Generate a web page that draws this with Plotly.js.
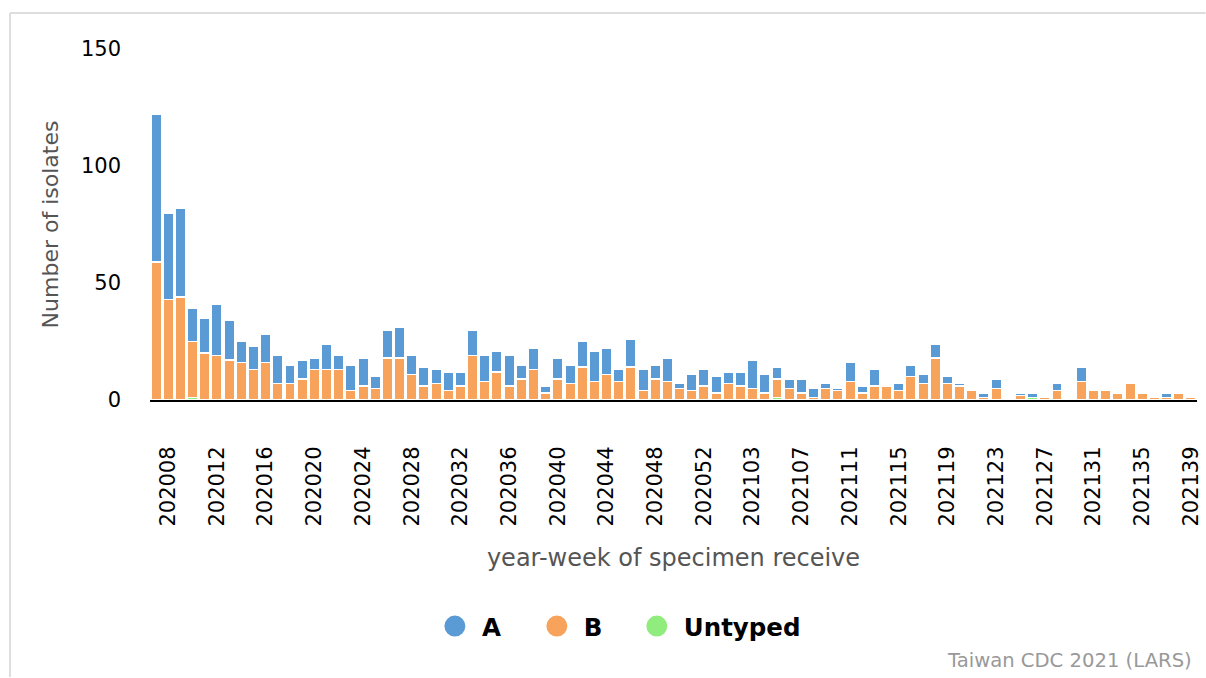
<!DOCTYPE html>
<html><head><meta charset="utf-8">
<script src="https://cdn.plot.ly/plotly-3.0.1.min.js"></script>
<style>html,body{margin:0;padding:0;background:#fff;} #chart{width:1206px;height:678px;}</style>
</head><body><div id="chart"></div>
<script>
const weeks = ['202007','202008','202009','202010','202011','202012','202013','202014','202015','202016',
'202017','202018','202019','202020','202021','202022','202023','202024','202025','202026',
'202027','202028','202029','202030','202031','202032','202033','202034','202035','202036',
'202037','202038','202039','202040','202041','202042','202043','202044','202045','202046',
'202047','202048','202049','202050','202051','202052','202053',
'202101','202102','202103','202104','202105','202106','202107','202108','202109','202110',
'202111','202112','202113','202114','202115','202116','202117','202118','202119','202120',
'202121','202122','202123','202124','202125','202126','202127','202128','202129','202130',
'202131','202132','202133','202134','202135','202136','202137','202138','202139'];
const typeA = [63,37,38,14,15,22,17,9,10,12, 12,8,8,5,11,6,11,12,5,12, 13,8,8,6,8,6,11,11,9,13,
6,9,3,9,8,11,13,11,5,12, 9,6,10,2,7,7,7, 5,6,12,8,5,4,6,4,2,1, 8,3,7,0,3,5,4,6,3,1,
0,2,4,0,1,2,0,3,0,6, 0,0,0,0,0,0,2,0,0];
const typeB = [59,43,44,24,20,19,17,16,13,16, 7,7,9,13,13,13,4,6,5,18, 18,11,6,7,4,6,19,8,12,6,
9,13,3,9,7,14,8,11,8,14, 4,9,8,5,4,6,3, 7,6,5,3,8,5,3,1,5,4, 8,3,6,6,4,10,7,18,7,6,
4,1,5,0,2,0,1,4,0,8, 4,4,3,7,3,1,1,3,1];
const untyped = [0,0,0,1,0,0,0,0,0,0, 0,0,0,0,0,0,0,0,0,0, 0,0,0,0,0,0,0,0,0,0,
0,0,0,0,0,0,0,0,0,0, 0,0,0,0,0,0,0, 0,0,0,0,1,0,0,0,0,0, 0,0,0,0,0,0,0,0,0,0,
0,0,0,0,0,1,0,0,0,0, 0,0,0,0,0,0,0,0,0];
const tickLabels = ['202008','202012','202016','202020','202024','202028','202032','202036','202040','202044',
'202048','202052','202103','202107','202111','202115','202119','202123','202127','202131','202135','202139'];
const yTicks = [0,50,100,150];
const seriesNames = ['A','B','Untyped'];
const seriesColors = ['#5b9bd5','#f7a35c','#90ed7d'];

const L=150, R=1197.4, T=49, Bm=400.5;
const px = x => (x-L)/(R-L);
const py = y => (Bm-y)/(Bm-T);
const font = '"DejaVu Sans", sans-serif';

function bar(name, vals, color){
  return {type:'bar', name:name, x:weeks, y:vals, showlegend:false,
    marker:{color:color, line:{color:'#ffffff', width:1.5}}};
}
const traces = [
  bar('Untyped', untyped, seriesColors[2]),
  bar('B', typeB, seriesColors[1]),
  bar('A', typeA, seriesColors[0])
];
const legendIds = ['legend','legend2','legend3'];
const legendCenters = [455, 557, 657];
seriesNames.forEach((n,i)=>{
  traces.push({type:'scatter', mode:'markers', name:n, x:[null], y:[null], legend:legendIds[i],
    marker:{color:seriesColors[i], size:16, symbol:'circle', line:{color:seriesColors[i], width:5}}, hoverinfo:'skip'});
});

function legendBox(cx){
  return {orientation:'h', x:px(cx-27), xanchor:'left', y:py(627), yanchor:'middle', itemwidth:44,
    font:{family:font, size:24.5, color:'#000', weight:'bold'}, bgcolor:'rgba(0,0,0,0)', borderwidth:0};
}

const layout = {
  width:1206, height:678,
  margin:{l:L, r:1206-R, t:T, b:678-Bm, pad:0},
  paper_bgcolor:'#ffffff', plot_bgcolor:'#ffffff',
  barmode:'stack', bargap:0.14,
  xaxis:{type:'category', range:[-0.5, weeks.length-0.5], tickmode:'array', tickvals:tickLabels, ticktext:tickLabels,
    tickangle:-90, tickfont:{family:font, size:21, color:'#000'}, showline:true, linecolor:'#000', linewidth:2,
    showgrid:false, zeroline:false, ticks:'', ticklabelstandoff:36, automargin:false,
    title:{text:'year-week of specimen receive', font:{family:font, size:24, color:'#555'}, standoff:24}},
  yaxis:{range:[0,150], tickmode:'array', tickvals:yTicks, tickfont:{family:font, size:21, color:'#000'},
    showgrid:false, zeroline:false, showline:false, ticks:'', ticklabelstandoff:28, automargin:false,
    title:{text:'Number of isolates', font:{family:font, size:22, color:'#555'}, standoff:16}},
  legend:legendBox(legendCenters[0]),
  legend2:legendBox(legendCenters[1]),
  legend3:legendBox(legendCenters[2]),
  annotations:[{xref:'paper', yref:'paper', x:px(1194), y:py(661), xanchor:'right', yanchor:'middle',
    text:'Taiwan CDC 2021 (LARS)', showarrow:false, font:{family:font, size:19.6, color:'#999'}}],
  shapes:[
    {type:'line', xref:'paper', yref:'paper', x0:px(10), x1:px(1206), y0:py(13), y1:py(13), line:{color:'#dddddd', width:2}},
    {type:'line', xref:'paper', yref:'paper', x0:px(10), x1:px(10), y0:py(13), y1:py(678), line:{color:'#dddddd', width:2}}
  ]
};
Plotly.newPlot('chart', traces, layout, {displayModeBar:false, staticPlot:true});
</script></body></html>
